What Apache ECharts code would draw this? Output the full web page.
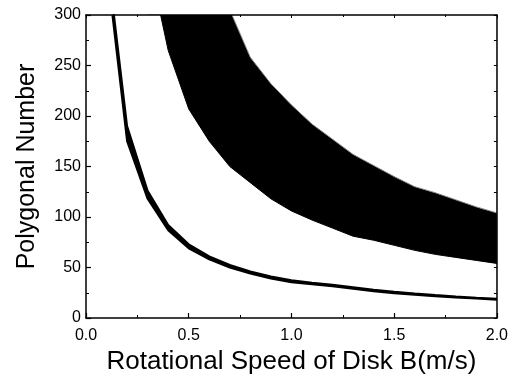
<!DOCTYPE html>
<html><head><meta charset="utf-8">
<script src="https://cdn.jsdelivr.net/npm/echarts@6/dist/echarts.min.js"></script>
<style>html,body{margin:0;padding:0;background:#fff}#c{width:511px;height:383px}</style>
</head><body><div id="c"></div>
<script>
// Lower (thin) band
const lowSpeeds     = [0.1, 0.2, 0.3, 0.4, 0.5, 0.6, 0.7, 0.8, 0.9, 1.0, 1.1, 1.2, 1.3, 1.4, 1.5, 1.6, 1.7, 1.8, 1.9, 2.0];
const lowBandBottom = [350, 175, 118, 87, 69, 58, 50, 44, 39, 35.5, 33.5, 31.5, 29, 26.5, 24.5, 23, 21.5, 20.3, 19.2, 18];
const lowBandTop    = [362, 190, 126, 92, 73, 61, 52.5, 46, 41, 37.5, 35, 33, 30.5, 28, 26, 24.2, 22.7, 21.3, 20.1, 19];
// Upper (wide) band
const highSpeeds     = [0.3, 0.4, 0.5, 0.6, 0.7, 0.8, 0.9, 1.0, 1.1, 1.2, 1.3, 1.4, 1.5, 1.6, 1.7, 1.8, 1.9, 2.0];
const highBandBottom = [360, 265, 207, 175, 150, 134, 118, 106, 97, 89, 81, 77, 72, 67, 63, 60, 57, 54];
const highBandTop    = [690, 520, 415, 350, 305, 258, 232, 211, 192, 177, 162, 151, 140, 130, 124, 117, 110, 104];
// Tick labels
const xTickLabels = ['0.0', '0.5', '1.0', '1.5', '2.0'];
const yTickLabels = ['0', '50', '100', '150', '200', '250', '300'];

const pairs = (xs, ys) => xs.map((x, i) => [x, ys[i]]);

const FONT = 'Liberation Sans, Arial, sans-serif';
const axisLine = { show: true, onZero: false, lineStyle: { color: '#000', width: 1.5 } };

// Each band: area above the lower curve (up to the axis max) is filled black,
// then area above the upper curve is filled white, leaving the band black.
function band(xs, bottom, top, zBase, topColor, lineW) {
  return [
    { type: 'line', data: pairs(xs, bottom), symbol: 'none', z: zBase, clip: true,
      lineStyle: { color: '#000', width: lineW },
      areaStyle: { color: '#000', opacity: 1, origin: 'end' } },
    { type: 'line', data: pairs(xs, top), symbol: 'none', z: zBase + 1, clip: true,
      lineStyle: { color: topColor, width: lineW },
      areaStyle: { color: '#fff', opacity: 1, origin: 'end' } }
  ];
}

const chart = echarts.init(document.getElementById('c'));
chart.setOption({
  animation: false,
  backgroundColor: '#fff',
  grid: { left: 86, top: 15, right: 12, bottom: 65 },
  xAxis: [{
    type: 'value', min: 0, max: 2, interval: 0.5, z: 20,
    name: 'Rotational Speed of Disk B(m/s)', nameLocation: 'middle', nameGap: 31,
    nameTextStyle: { fontFamily: FONT, fontSize: 26, color: '#000' },
    axisLine, splitLine: { show: false },
    axisTick: { inside: true, length: 5, lineStyle: { color: '#000', width: 1.2 } },
    minorTick: { show: true, splitNumber: 2, length: 3, lineStyle: { color: '#000', width: 1 } },
    axisLabel: { margin: 10, fontFamily: FONT, fontSize: 16, color: '#000',
      formatter: (v, i) => xTickLabels[i] }
  }, {
    type: 'value', min: 0, max: 2, interval: 0.5, position: 'top', z: 20,
    axisLine, splitLine: { show: false },
    axisTick: { inside: true, length: 3, lineStyle: { color: '#000', width: 1 } },
    minorTick: { show: true, splitNumber: 2, length: 2, lineStyle: { color: '#000', width: 1 } },
    axisLabel: { show: false }
  }],
  yAxis: [{
    type: 'value', min: 0, max: 300, interval: 50, z: 20,
    name: 'Polygonal Number', nameLocation: 'middle', nameGap: 46,
    nameTextStyle: { fontFamily: FONT, fontSize: 25, color: '#000' },
    axisLine, splitLine: { show: false },
    axisTick: { inside: true, length: 5, lineStyle: { color: '#000', width: 1.2 } },
    minorTick: { show: true, splitNumber: 2, length: 3, lineStyle: { color: '#000', width: 1 } },
    axisLabel: { margin: 5, fontFamily: FONT, fontSize: 16, color: '#000',
      formatter: (v, i) => yTickLabels[i] }
  }, {
    type: 'value', min: 0, max: 300, interval: 50, position: 'right', z: 20,
    axisLine, splitLine: { show: false },
    axisTick: { inside: true, length: 3, lineStyle: { color: '#000', width: 1 } },
    minorTick: { show: true, splitNumber: 2, length: 3, lineStyle: { color: '#000', width: 1 } },
    axisLabel: { show: false }
  }],
  series: [
    ...band(lowSpeeds, lowBandBottom, lowBandTop, 2, '#000', 2),
    ...band(highSpeeds, highBandBottom, highBandTop, 4, '#888', 1)
  ]
});
</script>
</body></html>
